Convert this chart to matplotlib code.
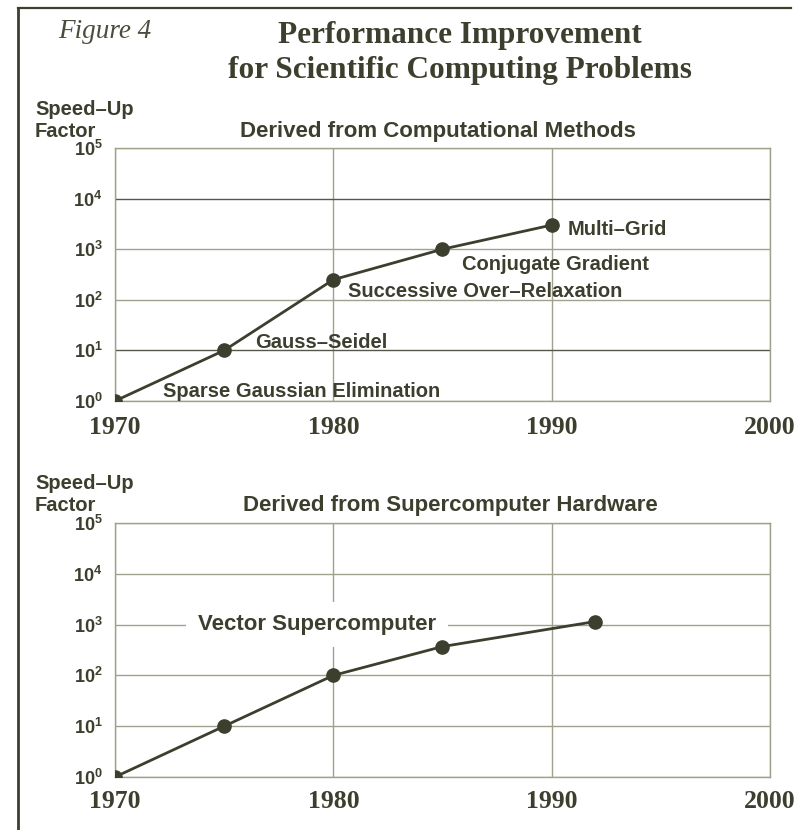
import numpy as np
import matplotlib
matplotlib.use("Agg")
import matplotlib.pyplot as plt
from matplotlib.lines import Line2D
from matplotlib.ticker import NullLocator

# data
methods_years = [1970, 1975, 1980, 1985, 1990]
methods_speedup = [1, 10, 250, 1000, 3000]
methods_names = ["Sparse Gaussian Elimination", "Gauss\u2013Seidel",
                 "Successive Over\u2013Relaxation", "Conjugate Gradient",
                 "Multi\u2013Grid"]

hw_years = [1970, 1975, 1980, 1985, 1992]
hw_speedup = [1, 10, 100, 370, 1150]
hw_label = "Vector Supercomputer"

year_ticks = [1970, 1980, 1990, 2000]
decades = [1, 10, 100, 1000, 10000, 100000]
decade_labels = [r"$10^{%d}$" % i for i in range(6)]

ink = "#3d3f2e"
grid_c = "#a0a08c"

plt.rcParams["mathtext.fontset"] = "custom"
plt.rcParams["mathtext.rm"] = "Liberation Sans:bold"
plt.rcParams["mathtext.it"] = "Liberation Sans:bold"
plt.rcParams["mathtext.bf"] = "Liberation Sans:bold"

sans = dict(family="Liberation Sans", weight="bold", color=ink)
serif = dict(family="Liberation Serif", weight="bold", color=ink)

fig = plt.figure(figsize=(7.98, 8.30), dpi=100)
W, H = 798.0, 830.0


def fx(px):
    return px / W


def fy(py):
    return 1 - py / H


# outer frame (left and top rules)
fig.add_artist(Line2D([fx(18), fx(18)], [fy(8), 0], color=ink, lw=2.0))
fig.add_artist(Line2D([fx(18), fx(791)], [fy(8), fy(8)], color=ink, lw=1.6))

fig.text(fx(58), fy(38), "Figure 4", family="Liberation Serif", style="italic",
         fontsize=19.5, color="#4a4c3c", va="baseline")
fig.text(fx(460), fy(43), "Performance Improvement", fontsize=22.5,
         ha="center", va="baseline", **serif)
fig.text(fx(460), fy(78), "for Scientific Computing Problems", fontsize=22.5,
         ha="center", va="baseline", **serif)


def setup(ax, xpad):
    ax.set_yscale("log")
    ax.set_ylim(1, 1e5)
    ax.set_xlim(1970, 2000)
    ax.set_yticks(decades, decade_labels)
    ax.yaxis.set_minor_locator(NullLocator())
    ax.set_xticks(year_ticks, [str(y) for y in year_ticks])
    ax.tick_params(axis="y", length=0, pad=9, labelsize=13, labelcolor=ink)
    ax.tick_params(axis="x", length=0, pad=xpad, labelsize=18.5, labelcolor=ink)
    for lab in ax.get_xticklabels():
        lab.set_family("Liberation Serif")
        lab.set_weight("bold")
    ax.grid(True, color=grid_c, lw=1.0)
    ax.set_axisbelow(True)
    for s in ax.spines.values():
        s.set_color(grid_c)
        s.set_linewidth(1.0)


# top panel
ax1 = fig.add_axes([fx(115), fy(401), fx(770) - fx(115), fy(148) - fy(401)])
setup(ax1, 11)
# the scan shows the 10^1 and 10^4 rules printed darker
for i in (1, 4):
    ax1.get_ygridlines()[i].set_color("#55574a")
ax1.plot(methods_years, methods_speedup, color=ink, lw=2, marker="o",
         markersize=9.5, zorder=3)
label_offsets = [(48, 4), (31, 2), (15, -17), (20, -21), (16, -10)]
for x, y, name, off in zip(methods_years, methods_speedup, methods_names, label_offsets):
    ax1.annotate(name, (x, y), xytext=off, textcoords="offset pixels",
                 ha="left", va="baseline", fontsize=14.5, **sans)
fig.text(fx(35), fy(115), "Speed\u2013Up", fontsize=14.5, va="baseline", **sans)
fig.text(fx(35), fy(137), "Factor", fontsize=14.5, va="baseline", **sans)
fig.text(fx(240), fy(137), "Derived from Computational Methods", fontsize=16,
         va="baseline", **sans)

# bottom panel
ax2 = fig.add_axes([fx(115), fy(777), fx(770) - fx(115), fy(523) - fy(777)])
setup(ax2, 9)
ax2.plot(hw_years, hw_speedup, color=ink, lw=2, marker="o",
         markersize=9.5, zorder=3)
ax2.text(1973.8, 1000, hw_label, ha="left", va="center", fontsize=16, zorder=2,
         bbox=dict(boxstyle="square,pad=0.55", fc="white", ec="none"), **sans)
fig.text(fx(35), fy(489), "Speed\u2013Up", fontsize=14.5, va="baseline", **sans)
fig.text(fx(35), fy(511), "Factor", fontsize=14.5, va="baseline", **sans)
fig.text(fx(243), fy(511), "Derived from Supercomputer Hardware", fontsize=16,
         va="baseline", **sans)

fig.savefig("out.png", dpi=100, facecolor="white")
